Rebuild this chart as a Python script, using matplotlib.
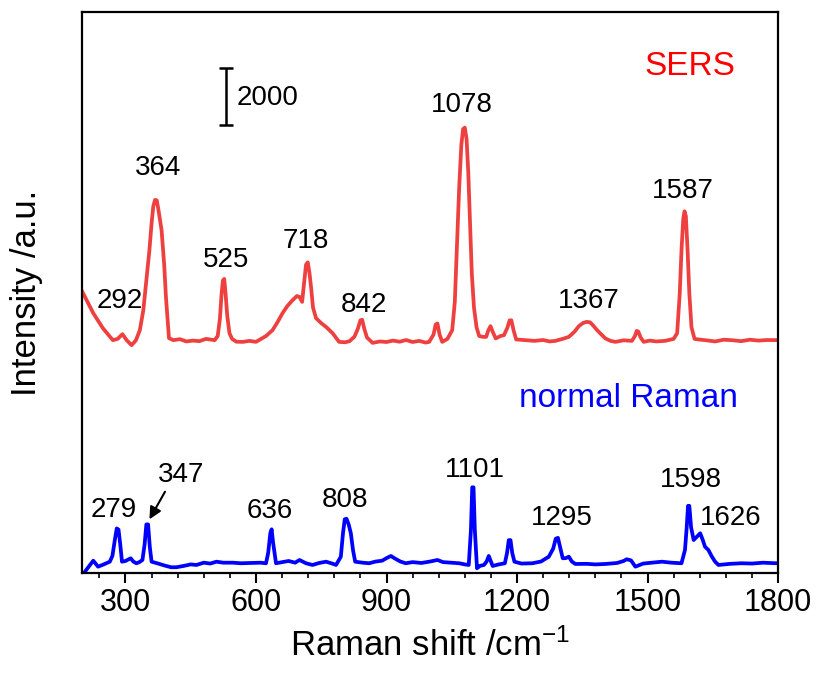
import matplotlib
matplotlib.use("Agg")
import matplotlib.pyplot as plt
from matplotlib.ticker import MultipleLocator, AutoMinorLocator

plt.rcParams['font.family'] = ['Liberation Sans', 'DejaVu Sans']
plt.rcParams['mathtext.default'] = 'regular'

# SERS spectrum (offset upwards)
sers_shift = [201, 226, 248, 271, 282, 293, 303, 314, 324, 333, 341, 348, 355, 360, 364, 368,
              372, 376, 383, 389, 393, 400, 410, 425, 440, 455, 470, 485, 505, 512, 517, 521,
              524, 527, 530, 534, 539, 545, 555, 570, 585, 600, 612, 623, 638, 650, 661, 672,
              684, 694, 700, 706, 711, 715, 719, 723, 727, 731, 738, 750, 761, 776, 791, 805,
              815, 826, 834, 840, 844, 849, 855, 868, 885, 900, 915, 930, 945, 960, 975, 990,
              998, 1008, 1013, 1017, 1022, 1028, 1040, 1051, 1057, 1062, 1067, 1072, 1076,
              1080, 1084, 1088, 1092, 1096, 1101, 1107, 1113, 1122, 1129, 1134, 1139, 1144,
              1151, 1162, 1170, 1178, 1183, 1187, 1192, 1198, 1219, 1240, 1260, 1275, 1288,
              1305, 1319, 1332, 1342, 1352, 1360, 1368, 1376, 1384, 1394, 1403, 1415, 1426,
              1445, 1464, 1471, 1475, 1479, 1484, 1491, 1505, 1520, 1540, 1560, 1568, 1574,
              1578, 1582, 1585, 1588, 1592, 1596, 1601, 1608, 1617, 1635, 1655, 1675, 1693,
              1715, 1735, 1755, 1775, 1798]
sers_int = [9845, 9100, 8575, 8155, 8200, 8365, 8150, 7980, 8150, 8505, 9200, 10255, 11300,
            12250, 12850, 13070, 13050, 12700, 12005, 10800, 9670, 8225, 8155, 8190, 8110,
            8140, 8120, 8200, 8155, 8300, 8900, 9800, 10250, 10300, 9800, 9000, 8400, 8200,
            8100, 8095, 8130, 8095, 8200, 8300, 8505, 8800, 9100, 9350, 9555, 9700, 9670, 9495,
            10200, 10800, 10880, 10500, 9950, 9300, 8925, 8750, 8620, 8400, 8095, 8080, 8120,
            8270, 8550, 8850, 8870, 8550, 8250, 8060, 8110, 8090, 8140, 8100, 8160, 8090, 8130,
            8070, 8095, 8350, 8700, 8740, 8350, 8095, 8200, 8505, 9500, 11500, 13500, 15000,
            15550, 15600, 15200, 14000, 12200, 10500, 9300, 8600, 8300, 8270, 8270, 8500, 8645,
            8450, 8215, 8300, 8330, 8600, 8850, 8850, 8500, 8180, 8155, 8130, 8160, 8110, 8130,
            8200, 8270, 8450, 8645, 8760, 8795, 8780, 8650, 8505, 8350, 8215, 8130, 8095, 8150,
            8130, 8300, 8480, 8450, 8250, 8095, 8140, 8110, 8130, 8200, 8400, 9800, 11300,
            12400, 12670, 12500, 11300, 9800, 8600, 8200, 8180, 8150, 8110, 8170, 8155, 8120,
            8170, 8140, 8160, 8155]

# normal Raman spectrum
raman_shift = [200, 212, 226, 237, 250, 264, 270, 276, 280, 284, 288, 292, 300, 312, 318, 325,
               332, 339, 344, 348, 352, 356, 360, 375, 390, 405, 417, 435, 450, 463, 480, 495,
               509, 525, 547, 565, 590, 610, 623, 628, 633, 636, 639, 646, 660, 675, 690, 700,
               715, 730, 745, 761, 775, 784, 795, 800, 804, 808, 813, 818, 823, 828, 845, 860,
               875, 890, 900, 910, 920, 932, 944, 960, 980, 1000, 1017, 1030, 1050, 1067, 1080,
               1089, 1094, 1097, 1100, 1103, 1108, 1115, 1124, 1130, 1135, 1140, 1144, 1158,
               1172, 1177, 1181, 1185, 1189, 1194, 1210, 1235, 1255, 1273, 1283, 1289, 1294,
               1299, 1305, 1312, 1319, 1326, 1334, 1360, 1380, 1403, 1430, 1445, 1452, 1462,
               1472, 1490, 1510, 1533, 1555, 1578, 1586, 1590, 1593, 1596, 1600, 1606, 1612,
               1621, 1627, 1632, 1640, 1647, 1655, 1663, 1690, 1716, 1740, 1765, 1796]
raman_int = [-100, 150, 430, 220, 300, 395, 600, 1200, 1560, 1520, 1000, 395, 420, 515, 400,
             340, 380, 455, 1000, 1700, 1700, 900, 395, 330, 260, 200, 200, 250, 300, 280, 360,
             330, 395, 360, 360, 340, 350, 360, 340, 700, 1400, 1530, 1100, 340, 380, 420, 360,
             455, 340, 280, 350, 395, 330, 280, 570, 1400, 1880, 1900, 1700, 1390, 800, 395,
             360, 340, 400, 430, 520, 595, 500, 400, 340, 380, 350, 400, 455, 380, 360, 340,
             300, 280, 1500, 3000, 3000, 1500, 165, 250, 280, 400, 595, 400, 245, 300, 340, 700,
             1150, 1150, 700, 395, 330, 340, 400, 570, 850, 1200, 1230, 900, 515, 520, 570, 400,
             315, 320, 300, 315, 350, 420, 480, 440, 220, 330, 360, 395, 360, 340, 805, 1600,
             2350, 2350, 1600, 1155, 1250, 1390, 1150, 920, 800, 595, 400, 280, 320, 340, 330,
             360, 340]

sers_labels = ['292', '364', '525', '718', '842', '1078', '1367', '1587']
sers_label_x = [287, 375, 532, 715, 848, 1073, 1364, 1582]
sers_label_y = [9275, 13930, 10710, 11375, 9135, 16135, 9275, 13125]

raman_labels = ['279', '347', '636', '808', '1101', '1295', '1598', '1626']
raman_label_x = [272, 428, 631, 805, 1103, 1302, 1599, 1692]
raman_label_y = [1960, 3185, 1925, 2310, 3360, 1680, 3010, 1680]

fig = plt.figure(figsize=(8.18, 6.74), dpi=100)
ax = fig.add_axes([0.1002, 0.1499, 0.851, 0.8323])

ax.plot(sers_shift, sers_int, color='#EF4040', lw=2.7, solid_joinstyle='round')
ax.plot(raman_shift, raman_int, color='#0000FF', lw=2.7, solid_joinstyle='round')

for t, x, y in zip(sers_labels, sers_label_x, sers_label_y):
    ax.text(x, y, t, fontsize=20, ha='center', va='baseline')
for t, x, y in zip(raman_labels, raman_label_x, raman_label_y):
    ax.text(x, y, t, fontsize=20, ha='center', va='baseline')

# arrow pointing at the 347 peak
ax.annotate('', xy=(352, 1795), xytext=(394, 2930),
            arrowprops=dict(arrowstyle='-|>', color='black', lw=1.5, mutation_scale=18))

ax.text(1597, 17430, 'SERS', color='#FF0000', fontsize=24, ha='center', va='baseline')
ax.text(1456, 5820, 'normal Raman', color='#0000FF', fontsize=24, ha='center', va='baseline')

# 2000 counts scale bar
ax.errorbar([532], [16680], yerr=[[1000], [1000]], color='black', lw=1.8,
            capsize=5, capthick=1.8)
ax.text(555, 16380, '2000', fontsize=20, ha='left', va='baseline')

ax.set_xlim(200, 1800)
ax.set_ylim(0, 19650)
ax.set_yticks([])
ax.xaxis.set_major_locator(MultipleLocator(300))
ax.xaxis.set_minor_locator(AutoMinorLocator(5))
ax.tick_params(axis='x', which='major', direction='out', length=7.5, width=1.5,
               labelsize=22, pad=3)
ax.tick_params(axis='x', which='minor', direction='out', length=3.5, width=1.2)
for s in ax.spines.values():
    s.set_linewidth(1.6)

ax.set_xlabel('Raman shift /cm$^{-1}$', fontsize=25, labelpad=8)
ax.set_ylabel('Intensity /a.u.', fontsize=25, labelpad=28)

fig.savefig('out.png', dpi=100)
